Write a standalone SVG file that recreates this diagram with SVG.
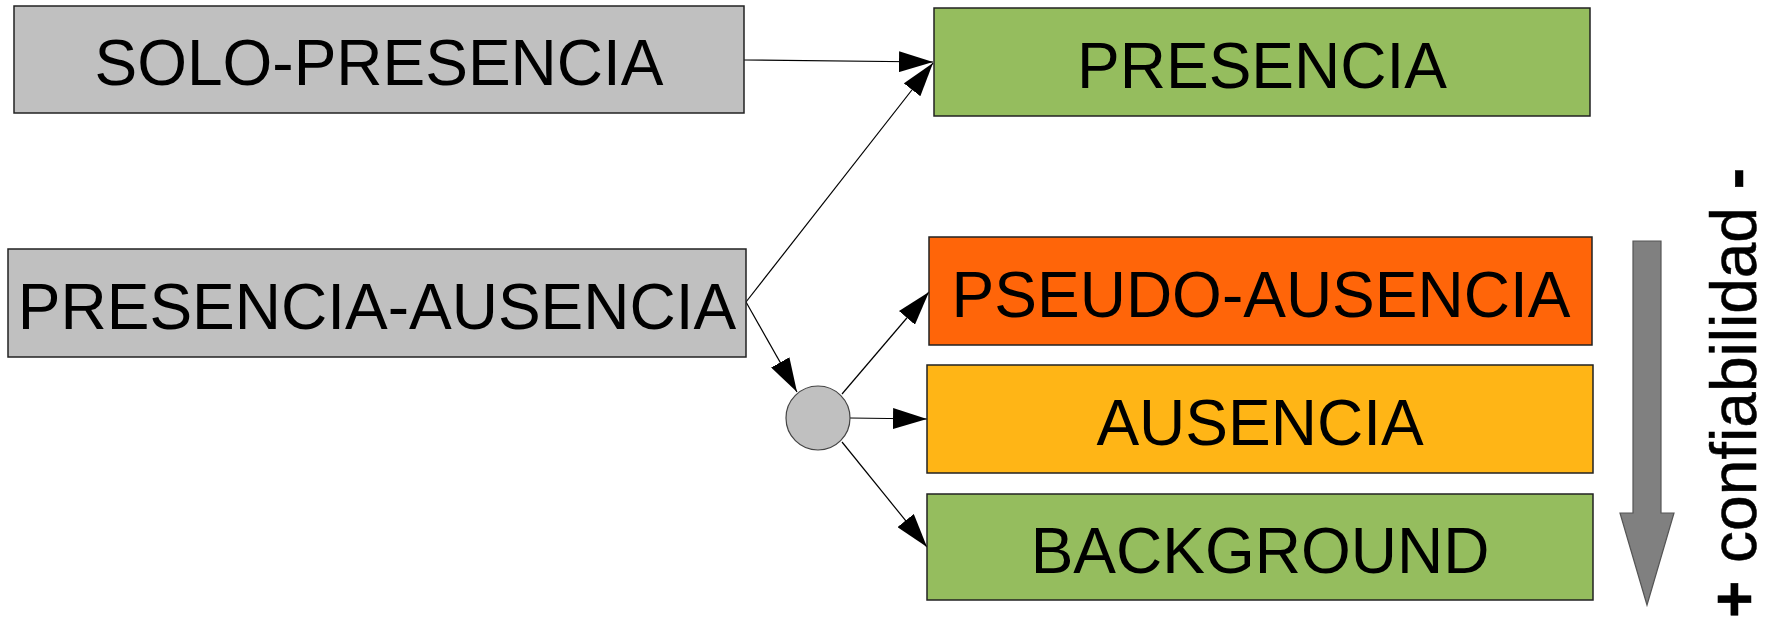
<svg xmlns="http://www.w3.org/2000/svg" width="1773" height="619" viewBox="0 0 1773 619">
<defs>
<style>
.box{stroke:#222;stroke-width:1.5}
.gray{fill:#c0c0c0}
.green{fill:#95bd5e}
.orange{fill:#ff6509}
.amber{fill:#ffb516}
.lbl{font-family:"Liberation Sans",Arial,sans-serif;font-size:64px;fill:#000;text-anchor:middle}
.conn{stroke:#000;stroke-width:1.2;fill:none;marker-end:url(#ah)}
</style>
<marker id="ah" viewBox="0 0 34 21" refX="34" refY="10.5" markerWidth="34" markerHeight="21" markerUnits="userSpaceOnUse" orient="auto">
<path d="M0,0 L34,10.5 L0,21 Z" fill="#000"/>
</marker>
</defs>
<rect width="1773" height="619" fill="#fff"/>
<g id="connectors">
<line class="conn" x1="744" y1="60" x2="933" y2="62"/>
<line class="conn" x1="746" y1="302" x2="933" y2="63"/>
<line class="conn" x1="746" y1="302" x2="797" y2="392"/>
<line class="conn" x1="842" y1="394" x2="929" y2="292"/>
<line class="conn" x1="850" y1="418" x2="927" y2="419"/>
<line class="conn" x1="842" y1="442" x2="927" y2="547"/>
</g>
<g id="solo-presencia">
<rect class="box gray" x="14" y="6" width="730" height="107"/>
<text class="lbl" x="379" y="85">SOLO-PRESENCIA</text>
</g>
<g id="presencia">
<rect class="box green" x="934" y="8" width="656" height="108"/>
<text class="lbl" x="1262" y="88">PRESENCIA</text>
</g>
<g id="presencia-ausencia">
<rect class="box gray" x="8" y="249" width="738" height="108"/>
<text class="lbl" x="377" y="329">PRESENCIA-AUSENCIA</text>
</g>
<g id="junction">
<circle cx="818" cy="418" r="32" fill="#c0c0c0" stroke="#444" stroke-width="1.2"/>
</g>
<g id="pseudo-ausencia">
<rect class="box orange" x="929" y="237" width="663" height="108"/>
<text class="lbl" x="1261" y="317">PSEUDO-AUSENCIA</text>
</g>
<g id="ausencia">
<rect class="box amber" x="927" y="365" width="666" height="108"/>
<text class="lbl" x="1260" y="445">AUSENCIA</text>
</g>
<g id="background">
<rect class="box green" x="927" y="494" width="666" height="106"/>
<text class="lbl" x="1260" y="573">BACKGROUND</text>
</g>
<g id="confiabilidad-arrow">
<polygon points="1633,241 1661,241 1661,513 1674,513 1647,605 1620,513 1633,513" fill="#808080" stroke="#555" stroke-width="1.2"/>
</g>
<g id="confiabilidad-label">
<text transform="translate(1756,393) rotate(-90)" font-family="'Liberation Sans',Arial,sans-serif" font-size="64" text-anchor="middle" stroke="#000" stroke-width="0.5"><tspan font-weight="bold">+</tspan> confiabilidad <tspan font-weight="bold">-</tspan></text>
</g>
</svg>
